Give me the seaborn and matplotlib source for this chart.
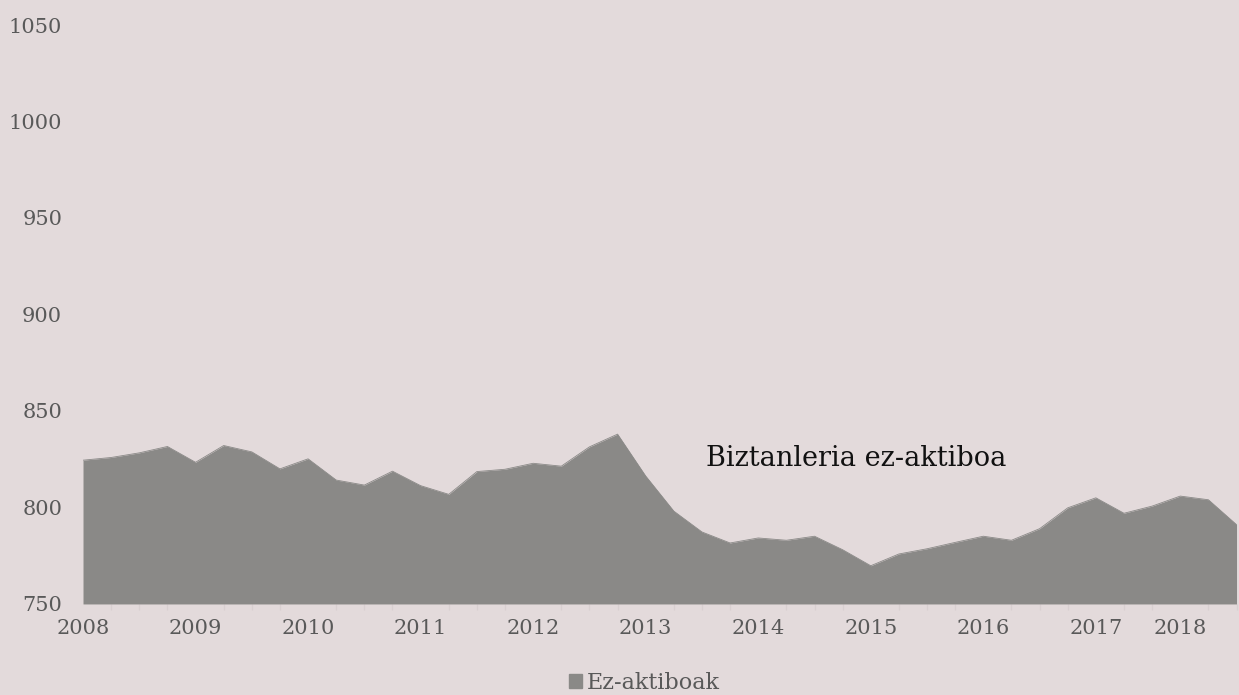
import numpy as np
import pandas as pd
import seaborn as sns
import matplotlib.pyplot as plt

# quarterly values, 2008 Q1 .. 2018 Q2 (thousands)
values = [824.5, 825.9, 828.3, 831.6, 823.4, 832.1, 828.8, 820.0, 825.2, 814.2,
          811.6, 818.8, 811.3, 806.8, 818.6, 819.8, 822.9, 821.4, 831.4, 838.0,
          816.3, 798.1, 787.3, 781.6, 784.2, 783.0, 785.1, 778.1, 769.8, 775.9,
          778.6, 781.9, 785.1, 783.0, 789.0, 799.8, 805.0, 797.0, 800.7, 805.9,
          804.0, 791.1]
year_labels = ["2008", "2009", "2010", "2011", "2012", "2013",
               "2014", "2015", "2016", "2017", "2018"]
year_label_pos = [0, 4, 8, 12, 16, 20, 24, 28, 32, 36, 39]
y_ticks = [750, 800, 850, 900, 950, 1000, 1050]

df = pd.DataFrame({"t": np.arange(len(values)), "value": values})

bg = "#e3dadb"
area_col = "#8a8987"

sns.set_theme(style="white")
plt.rcParams["font.family"] = ["DejaVu Serif"]

fig = plt.figure(figsize=(12.39, 6.95), dpi=100, facecolor=bg)
ax = fig.add_axes([0.067, 0.131, 0.931, 0.833])
ax.set_facecolor(bg)

sns.lineplot(data=df, x="t", y="value", color=area_col, linewidth=0.6, ax=ax)
ax.fill_between(df["t"], 750, df["value"], color=area_col, linewidth=0,
                label="Ez-aktiboak")

ax.set_xlim(0, len(values) - 1)
ax.set_ylim(750, 1050)
ax.set_yticks(y_ticks)
ax.set_yticklabels([str(v) for v in y_ticks], fontsize=15, color="#595959")
ax.tick_params(axis="y", length=0, pad=15)

ax.set_xticks(year_label_pos)
ax.set_xticklabels(year_labels, fontsize=15, color="#595959")
ax.set_xticks(df["t"], minor=True)
ax.tick_params(axis="x", which="major", length=0, pad=11)
ax.tick_params(axis="x", which="minor", length=4, width=1, color="#d9d0d1",
               direction="out", bottom=True)

for s in ax.spines.values():
    s.set_visible(False)
ax.set_xlabel("")
ax.set_ylabel("")

ax.text(22.15, 825.5, "Biztanleria ez-aktiboa", fontsize=19.5, color="#111111",
        va="center", ha="left")

leg = fig.legend(handles=[plt.Rectangle((0, 0), 1, 1, color=area_col)],
                 labels=["Ez-aktiboak"], loc="center", bbox_to_anchor=(0.52, 0.017),
                 frameon=False, fontsize=16, handlelength=0.6, handleheight=0.6,
                 handletextpad=0.2)
for t in leg.get_texts():
    t.set_color("#595959")

fig.savefig("out.png", dpi=100, facecolor=bg)
